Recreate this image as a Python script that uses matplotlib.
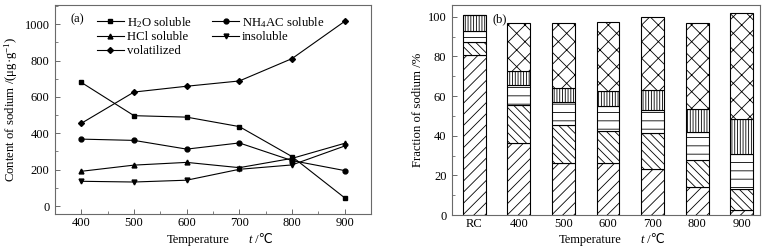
import matplotlib
matplotlib.use("Agg")
import matplotlib.pyplot as plt
from matplotlib.ticker import MultipleLocator

plt.rcParams['font.family'] = ['Liberation Serif', 'DejaVu Sans']
plt.rcParams['mathtext.fontset'] = 'custom'
plt.rcParams['mathtext.rm'] = 'Liberation Serif'
plt.rcParams['mathtext.it'] = 'Liberation Serif:italic'
plt.rcParams['hatch.linewidth'] = 0.6

# ---- data (a) ----
temps = [400, 500, 600, 700, 800, 900]
h2o = [680, 497, 489, 437, 272, 45]
nh4ac = [368, 361, 313, 347, 250, 195]
hcl = [191, 225, 240, 211, 262, 345]
insol = [136, 132, 142, 202, 226, 330]
volat = [455, 627, 659, 688, 811, 1016]

# ---- data (b) ----
cats = ['RC', '400', '500', '600', '700', '800', '900']
f_h2o = [80.5, 36.5, 26.4, 26.4, 23.4, 14.2, 2.5]
f_nh4ac = [6.6, 19.0, 19.1, 16.1, 18.2, 13.6, 10.5]
f_hcl = [5.9, 9.9, 11.7, 12.3, 11.1, 14.0, 17.9]
f_insol = [7.7, 7.2, 6.8, 7.6, 10.3, 11.9, 17.3]
f_volat = [0.0, 24.1, 33.0, 34.8, 36.7, 43.0, 53.8]

fig = plt.figure(figsize=(7.78, 2.48), dpi=100)
ax1 = fig.add_axes([55 / 778, 1 - 214 / 248, 316 / 778, 209 / 248])
ax2 = fig.add_axes([452 / 778, 1 - 215 / 248, 308 / 778, 210 / 248])

fs = 9
frame_c = '#6a6a6a'

# ---- panel (a) ----
series = [
    (h2o, 's', 'H$_2$O soluble'),
    (hcl, '^', 'HCl soluble'),
    (volat, 'D', 'volatilized'),
    (nh4ac, 'o', 'NH$_4$AC soluble'),
    (insol, 'v', 'insoluble'),
]
for vals, m, lab in series:
    ax1.plot(temps, vals, color='black', lw=0.8, marker=m, ms=3.5 if m != 'D' else 3,
             label=lab)
ax1.set_xlim(350, 950)
ax1.set_ylim(-44, 1106)
ax1.xaxis.set_major_locator(MultipleLocator(100))
ax1.xaxis.set_minor_locator(MultipleLocator(50))
ax1.yaxis.set_major_locator(MultipleLocator(200))
ax1.yaxis.set_minor_locator(MultipleLocator(100))
ax1.set_ylabel('Content of sodium /(μg·g$^{-1}$)', fontsize=9.2, labelpad=3)
leg = ax1.legend(ncol=2, frameon=False, fontsize=9.2, loc='upper left',
                 bbox_to_anchor=(0.108, 0.99), handlelength=2.1, handletextpad=0.25,
                 columnspacing=1.6, labelspacing=0.15, borderaxespad=0.2)
ax1.text(0.05, 0.93, '(a)', transform=ax1.transAxes, fontsize=fs, va='center')

# ---- panel (b) ----
x = range(len(cats))
bottom = [0.0] * len(cats)
hatches = ['///', '\\\\\\\\', '--', '||||||', 'xx']
for vals, h in zip([f_h2o, f_nh4ac, f_hcl, f_insol, f_volat], hatches):
    ax2.bar(x, vals, bottom=bottom, width=0.51, color='white', edgecolor='black',
            linewidth=0.8, hatch=h)
    bottom = [b + v for b, v in zip(bottom, vals)]
ax2.set_xticks(list(x))
ax2.set_xticklabels(cats)
ax2.set_xlim(-0.5, 6.41)
ax2.set_ylim(0, 105.9)
ax2.yaxis.set_major_locator(MultipleLocator(20))
ax2.yaxis.set_minor_locator(MultipleLocator(10))
ax2.set_ylabel('Fraction of sodium /%', fontsize=9.2, labelpad=3)
ax2.text(0.13, 0.93, '(b)', transform=ax2.transAxes, fontsize=fs, va='center')

for ax in (ax1, ax2):
    for s in ax.spines.values():
        s.set_color(frame_c)
        s.set_linewidth(0.8)
    ax.tick_params(which='major', direction='in', length=3.5, width=0.7,
                   color=frame_c, labelsize=fs, pad=2.5)
    ax.tick_params(which='minor', direction='in', length=2, width=0.6, color=frame_c)
    ax.tick_params(axis='y', pad=4)
ax2.tick_params(axis='x', which='both', length=0, pad=2.5)

# x labels: "Temperature    t /℃"
ty = 1 - 240 / 248
for cx in (198, 590):
    fig.text(cx / 778, ty, 'Temperature', fontsize=fs, ha='center', va='center')
    fig.text((cx + 50) / 778, ty, 't', fontsize=fs, style='italic',
             ha='left', va='center')
    fig.text((cx + 54) / 778, ty, ' /℃', fontsize=fs, ha='left', va='center',
             family=['Liberation Serif', 'DejaVu Sans'])

fig.savefig('out.png', dpi=100)
